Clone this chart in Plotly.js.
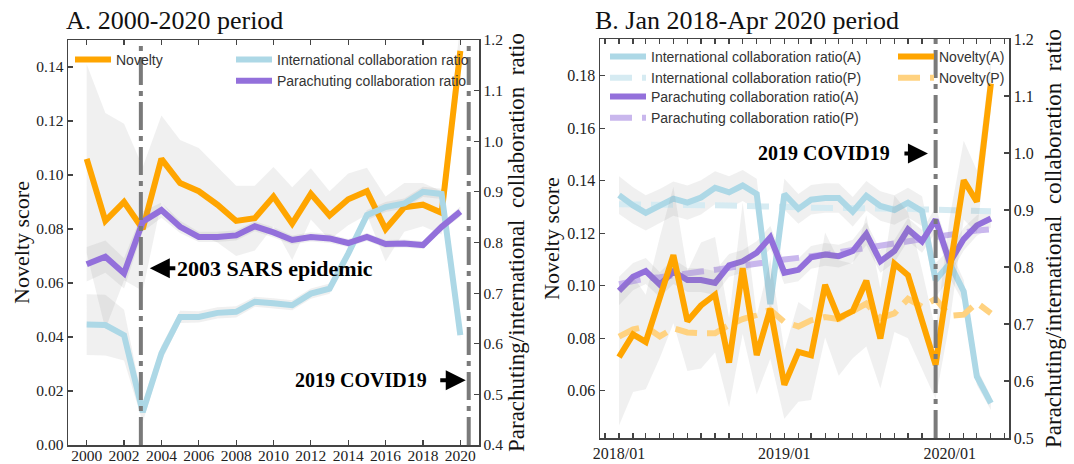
<!DOCTYPE html>
<html><head><meta charset="utf-8">
<script src="https://cdn.plot.ly/plotly-3.0.1.min.js"></script>
<style>html,body{margin:0;padding:0;background:#fff}#chart{width:1074px;height:464px}</style>
</head><body><div id="chart"></div>
<script>
// ---------- Panel A: 2000-2020 (yearly) ----------
const years = [2000,2001,2002,2003,2004,2005,2006,2007,2008,2009,2010,2011,2012,2013,2014,2015,2016,2017,2018,2019,2020];
const noveltyA = [0.106,0.083,0.090,0.080,0.106,0.097,0.094,0.089,0.083,0.084,0.092,0.082,0.093,0.085,0.091,0.094,0.080,0.088,0.089,0.086,0.146];
const noveltyA_hw = [0.035,0.040,0.029,0.023,0.016,0.016,0.016,0.014,0.013,0.012,0.011,0.0135,0.0095,0.009,0.0096,0.0087,0.012,0.009,0.008,0.008,0.010];
const intlA = [0.638,0.637,0.617,0.465,0.581,0.653,0.653,0.661,0.663,0.683,0.680,0.676,0.699,0.709,0.778,0.854,0.870,0.877,0.900,0.896,0.617];
const intlA_hw = [0.060,0.060,0.050,0.020,0.015,0.012,0.011,0.011,0.011,0.010,0.010,0.010,0.010,0.010,0.010,0.010,0.010,0.010,0.010,0.010,0.010];
const parachA = [0.757,0.772,0.739,0.841,0.864,0.831,0.811,0.811,0.814,0.832,0.820,0.805,0.811,0.808,0.799,0.811,0.797,0.798,0.795,0.831,0.861];
const parachA_hw = [0.034,0.032,0.030,0.020,0.015,0.012,0.010,0.010,0.010,0.010,0.010,0.009,0.009,0.009,0.008,0.008,0.008,0.008,0.008,0.008,0.010];

// ---------- Panel B: Jan 2018 - Apr 2020 (monthly) ----------
const months = ['2018-01','2018-02','2018-03','2018-04','2018-05','2018-06','2018-07','2018-08','2018-09','2018-10','2018-11','2018-12',
                '2019-01','2019-02','2019-03','2019-04','2019-05','2019-06','2019-07','2019-08','2019-09','2019-10','2019-11','2019-12',
                '2020-01','2020-02','2020-03','2020-04'];
const monthTickVals = ['2018-01-01','2019-01-01','2020-01-01'];
const monthTickText = ['2018/01','2019/01','2020/01'];
const noveltyB_A = [0.0728,0.0815,0.0786,0.0955,0.1117,0.0865,0.0925,0.0966,0.0707,0.1067,0.0736,0.0912,0.0623,0.0748,0.0735,0.1003,0.0877,0.0904,0.1019,0.0799,0.1084,0.1040,0.0870,0.0699,0.1060,0.1402,0.1320,0.1770];
const noveltyB_hw = [0.026,0.022,0.018,0.023,0.026,0.019,0.024,0.022,0.017,0.025,0.015,0.019,0.013,0.019,0.017,0.020,0.022,0.018,0.025,0.019,0.026,0.024,0.019,0.013,0.020,0.015,0.012,0.010];
const noveltyB_P = [0.0806,0.0834,0.0844,0.0807,0.0838,0.0822,0.0819,0.0819,0.0851,0.0873,0.0889,0.0908,0.0862,0.0845,0.0868,0.0881,0.0873,0.0900,0.0932,0.0877,0.0895,0.0950,0.0920,0.0950,0.0885,0.0890,0.0935,0.0895];
const intlB_A = [0.926,0.908,0.895,0.907,0.920,0.913,0.922,0.939,0.931,0.943,0.928,0.735,0.928,0.902,0.918,0.921,0.921,0.897,0.925,0.907,0.900,0.913,0.898,0.777,0.806,0.757,0.608,0.561];
const intlB_hw = [0.033,0.032,0.031,0.030,0.030,0.030,0.030,0.029,0.028,0.027,0.027,0.020,0.027,0.026,0.026,0.026,0.026,0.026,0.026,0.026,0.026,0.026,0.026,0.030,0.025,0.020,0.015,0.012];
const intlB_P = [0.910,0.910,0.909,0.909,0.909,0.909,0.908,0.908,0.908,0.907,0.907,0.906,0.905,0.905,0.904,0.904,0.904,0.903,0.903,0.903,0.902,0.902,0.901,0.900,0.900,0.899,0.899,0.898];
const parachB_A = [0.758,0.783,0.793,0.769,0.792,0.777,0.777,0.772,0.803,0.810,0.825,0.852,0.790,0.795,0.817,0.822,0.819,0.828,0.858,0.810,0.828,0.866,0.845,0.883,0.808,0.849,0.873,0.885];
const parachB_hw = [0.025,0.024,0.023,0.022,0.022,0.021,0.021,0.021,0.020,0.020,0.020,0.020,0.020,0.020,0.020,0.020,0.020,0.020,0.020,0.020,0.020,0.020,0.020,0.022,0.022,0.020,0.018,0.016];
const parachB_P = [0.770,0.776,0.780,0.782,0.786,0.789,0.792,0.795,0.799,0.803,0.806,0.810,0.813,0.816,0.818,0.822,0.826,0.830,0.834,0.838,0.841,0.845,0.848,0.852,0.856,0.860,0.864,0.866];

const ORANGE = '#FFA500', BLUE = '#ADD8E6', PURPLE = '#9370DB';
const ORANGE_P = '#FFD280', BLUE_P = '#D6EBF2', PURPLE_P = '#C9B7ED';
const SERIF = 'Liberation Serif, Times New Roman, serif';
const SANS = 'Liberation Sans, Arial, sans-serif';
const BAND = 'rgba(128,128,128,0.12)';

function band(x, y, hw, xa, ya) {
  const up = y.map((v, i) => v + hw[i]);
  const lo = y.map((v, i) => v - hw[i]);
  return {x: x.concat(x.slice().reverse()), y: up.concat(lo.slice().reverse()),
    type: 'scatter', mode: 'lines', fill: 'toself', fillcolor: BAND, line: {width: 0},
    hoverinfo: 'skip', showlegend: false, xaxis: xa, yaxis: ya};
}
function line(x, y, name, color, dash, xa, ya, legend, rank) {
  return {x: x, y: y, name: name, type: 'scatter', mode: 'lines',
    line: {color: color, width: 6, dash: dash || 'solid'},
    xaxis: xa, yaxis: ya, legend: legend, legendrank: rank};
}

const traces = [
  // Panel A
  band(years, noveltyA, noveltyA_hw, 'x', 'y'),
  line(years, noveltyA, 'Novelty', ORANGE, null, 'x', 'y', 'legend', 1),
  band(years, intlA, intlA_hw, 'x', 'y2'),
  band(years, parachA, parachA_hw, 'x', 'y2'),
  line(years, intlA, 'International collaboration ratio', BLUE, null, 'x', 'y2', 'legend2', 1),
  line(years, parachA, 'Parachuting collaboration ratio', PURPLE, null, 'x', 'y2', 'legend2', 2),
  // Panel B (y4 base, right; y3 overlay, left)
  band(months, intlB_A, intlB_hw, 'x2', 'y4'),
  band(months, parachB_A, parachB_hw, 'x2', 'y4'),
  line(months, intlB_P, 'International collaboration ratio(P)', BLUE_P, '22px,10px', 'x2', 'y4', 'legend3', 2),
  line(months, parachB_P, 'Parachuting collaboration ratio(P)', PURPLE_P, '22px,10px', 'x2', 'y4', 'legend5', 2),
  line(months, intlB_A, 'International collaboration ratio(A)', BLUE, null, 'x2', 'y4', 'legend3', 1),
  line(months, parachB_A, 'Parachuting collaboration ratio(A)', PURPLE, null, 'x2', 'y4', 'legend5', 1),
  band(months, noveltyB_A, noveltyB_hw, 'x2', 'y3'),
  line(months, noveltyB_P, 'Novelty(P)', ORANGE_P, '22px,10px', 'x2', 'y3', 'legend4', 2),
  line(months, noveltyB_A, 'Novelty(A)', ORANGE, null, 'x2', 'y3', 'legend4', 1)
];

const W = 1074, H = 464;
const px = v => v / W, py = v => 1 - v / H;
const axLine = {showline: true, linecolor: '#444', linewidth: 1.5, ticks: 'inside', ticklen: 5, tickwidth: 1.2,
  tickcolor: '#444', showgrid: false, zeroline: false};
const tickA = {family: SERIF, size: 15.5, color: '#222'};
const tickB = {family: SERIF, size: 16, color: '#222'};
const titleFont = {family: SERIF, size: 22, color: '#111'};
const rightFont = {family: SERIF, size: 23, color: '#111'};
const rightTitle = 'Parachuting/international&nbsp; collaboration&nbsp; ratio';
const legFont = {family: SANS, size: 14, color: '#333'};
const legBase = {bgcolor: 'rgba(0,0,0,0)', borderwidth: 0, font: legFont, xanchor: 'left', yanchor: 'top',
  orientation: 'v', traceorder: 'normal', itemwidth: 36, tracegroupgap: 0};

const layout = {
  width: W, height: H, margin: {l: 0, r: 0, t: 0, b: 0}, paper_bgcolor: '#fff', plot_bgcolor: 'rgba(0,0,0,0)',
  showlegend: true,
  xaxis: Object.assign({}, axLine, {domain: [px(68), px(479)], range: [1999, 2021], tick0: 2000, dtick: 2,
    mirror: 'ticks', anchor: 'y', tickfont: tickA, ticklabelstandoff: -4}),
  yaxis: Object.assign({}, axLine, {domain: [1 - 445 / H, py(40)], range: [0, 0.15], tick0: 0, dtick: 0.02,
    tickformat: '.2f', anchor: 'x', tickfont: tickA,
    title: {text: 'Novelty score', font: titleFont, standoff: 0}}),
  yaxis2: Object.assign({}, axLine, {overlaying: 'y', side: 'right', anchor: 'x', range: [0.4, 1.2], tick0: 0.4, dtick: 0.1,
    tickformat: '.1f', tickfont: tickA, title: {text: rightTitle, font: rightFont, standoff: 5}}),
  xaxis2: Object.assign({}, axLine, {type: 'date', domain: [px(600), px(1009)], range: ['2017-11-20', '2020-05-11'],
    tickmode: 'array', tickvals: monthTickVals, ticktext: monthTickText, mirror: 'ticks', anchor: 'y4', tickfont: tickB,
    minor: {ticks: 'inside', ticklen: 5, tickwidth: 1.2, tickcolor: '#444', dtick: 'M1', tick0: '2018-01-01', showgrid: false}}),
  yaxis4: Object.assign({}, axLine, {domain: [py(438), py(39)], side: 'right', anchor: 'x2', range: [0.5, 1.2], tick0: 0.5, dtick: 0.1,
    tickformat: '.1f', tickfont: tickB, title: {text: rightTitle, font: rightFont, standoff: 12}}),
  yaxis3: Object.assign({}, axLine, {overlaying: 'y4', side: 'left', anchor: 'x2', range: [0.042, 0.194], tick0: 0, dtick: 0.02,
    tickformat: '.2f', tickfont: tickB, title: {text: 'Novelty score', font: titleFont, standoff: 1}}),
  legend: Object.assign({}, legBase, {x: px(70), y: py(44)}),
  legend2: Object.assign({}, legBase, {x: px(231), y: py(44)}),
  legend3: Object.assign({}, legBase, {x: px(605), y: py(41)}),
  legend5: Object.assign({}, legBase, {x: px(605), y: py(81)}),
  legend4: Object.assign({}, legBase, {x: px(893), y: py(41)}),
  shapes: [
    {type: 'line', xref: 'x', yref: 'y domain', x0: 2002.9, x1: 2002.9, y0: 0, y1: 1, layer: 'above',
      line: {color: '#7a7a7a', width: 4, dash: '28px,6px,5px,6px'}},
    {type: 'line', xref: 'x', yref: 'y domain', x0: 2020.45, x1: 2020.45, y0: 0, y1: 1, layer: 'above',
      line: {color: '#7a7a7a', width: 4, dash: '28px,6px,5px,6px'}},
    {type: 'line', xref: 'x2', yref: 'y4 domain', x0: '2019-12-01', x1: '2019-12-01', y0: 0, y1: 1, layer: 'above',
      line: {color: '#7a7a7a', width: 4, dash: '28px,6px,5px,6px'}}
  ],
  annotations: [
    {text: 'A. 2000-2020 period', xref: 'paper', yref: 'paper', x: px(64), y: py(20), xanchor: 'left', yanchor: 'middle',
      showarrow: false, font: {family: SERIF, size: 26, color: '#111'}},
    {text: 'B. Jan 2018-Apr 2020 period', xref: 'paper', yref: 'paper', x: px(593), y: py(20), xanchor: 'left', yanchor: 'middle',
      showarrow: false, font: {family: SERIF, size: 26, color: '#111'}},
    {text: '', xref: 'x', yref: 'y', x: 2003.38, y: 0.0655, ax: 27, ay: 0, showarrow: true,
      arrowhead: 2, arrowsize: 1, arrowwidth: 4, arrowcolor: '#000'},
    {text: '<b>2003 SARS epidemic</b>', xref: 'x', yref: 'y', x: 2004.72, y: 0.0655, xanchor: 'left', yanchor: 'middle',
      showarrow: false, font: {family: SERIF, size: 22, color: '#000'}},
    {text: '<b>2019 COVID19</b>', xref: 'x', yref: 'y', x: 2018.31, y: 0.024, xanchor: 'right', yanchor: 'middle',
      showarrow: false, font: {family: SERIF, size: 20, color: '#000'}},
    {text: '', xref: 'x', yref: 'y', x: 2020.29, y: 0.024, ax: -27, ay: 0, showarrow: true,
      arrowhead: 2, arrowsize: 1, arrowwidth: 4, arrowcolor: '#000'},
    {text: '<b>2019 COVID19</b>', xref: 'x2', yref: 'y3', x: '2019-08-27', y: 0.1504, xanchor: 'right', yanchor: 'middle',
      showarrow: false, font: {family: SERIF, size: 20, color: '#000'}},
    {text: '', xref: 'x2', yref: 'y3', x: '2019-11-14', y: 0.1504, ax: -25, ay: 0, showarrow: true,
      arrowhead: 2, arrowsize: 1, arrowwidth: 4, arrowcolor: '#000'}
  ]
};

Plotly.newPlot('chart', traces, layout, {staticPlot: true, displayModeBar: false});
</script></body></html>
